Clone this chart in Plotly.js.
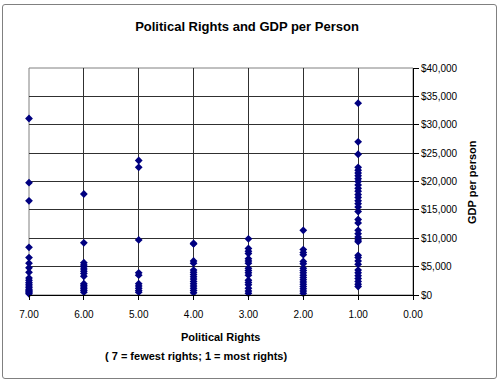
<!DOCTYPE html>
<html>
<head>
<meta charset="utf-8">
<script src="https://cdn.plot.ly/plotly-3.0.1.min.js"></script>
<style>
  html, body { margin: 0; padding: 0; background: #fff; }
  #wrap { position: relative; width: 500px; height: 382px; }
  #chart { width: 500px; height: 382px; }
  #frame { position: absolute; left: 2px; top: 4px; width: 493px; height: 373px;
           border: 1px solid #808080; border-radius: 3px; pointer-events: none; }
</style>
</head>
<body>
<div id="wrap"><div id="chart"></div><div id="frame"></div></div>
<script>
// Political rights score (x) and GDP per person values (y)
const rights = [7, 6, 5, 4, 3, 2, 1];
const gdp7 = [31100, 19800, 16600, 8400, 6600, 5600, 4800, 4000, 3000, 2600, 2200, 1900, 1600, 1300, 1000, 800, 600, 400, 200];
const gdp6 = [17800, 9200, 5700, 5300, 5000, 4600, 4200, 3800, 3300, 2000, 1700, 1400, 1100, 800, 500];
const gdp5 = [23700, 22500, 9700, 3900, 3500, 2000, 1600, 1200, 800, 500];
const gdp4 = [9100, 9000, 6000, 5600, 4400, 4000, 3600, 3200, 2800, 2400, 2000, 1600, 1200, 800, 400];
const gdp3 = [9900, 8200, 7700, 7300, 6400, 6000, 5600, 4700, 4300, 3900, 3500, 2600, 2200, 1800, 1200, 700, 300];
const gdp2 = [11400, 8000, 7500, 7100, 5900, 5500, 4700, 4300, 3900, 3500, 3100, 2700, 2300, 1900, 1500, 1100, 700, 300];
const gdp1 = [33800, 27000, 24800, 22500, 22000, 21500, 21000, 20500, 20000, 19400, 18800, 18300, 17700, 17200, 16600, 16100, 15500, 14700, 13300, 12700, 11400, 10800, 10200, 9700, 9400, 7000, 6600, 6000, 5400, 4400, 3900, 3400, 2900, 2400, 1900, 1500];
const xTickVals = [7, 6, 5, 4, 3, 2, 1, 0];
const xTickText = ['7.00', '6.00', '5.00', '4.00', '3.00', '2.00', '1.00', '0.00'];
const yTickVals = [0, 5000, 10000, 15000, 20000, 25000, 30000, 35000, 40000];
const yTickText = ['$0', '$5,000', '$10,000', '$15,000', '$20,000', '$25,000', '$30,000', '$35,000', '$40,000'];

const groups = [gdp7, gdp6, gdp5, gdp4, gdp3, gdp2, gdp1];
const xs = [], ys = [];
groups.forEach((g, i) => g.forEach(v => { xs.push(rights[i]); ys.push(v); }));

const F = 'Liberation Sans, Arial, sans-serif';

const trace = {
  type: 'scatter', mode: 'markers', x: xs, y: ys, cliponaxis: false,
  marker: { symbol: 'diamond', size: 6, color: '#000080', line: { width: 0 } },
  hoverinfo: 'x+y'
};

const layout = {
  width: 500, height: 382,
  margin: { l: 29, r: 87, t: 68, b: 87 },
  paper_bgcolor: '#ffffff', plot_bgcolor: '#ffffff',
  showlegend: false,
  font: { family: F, size: 10, color: '#000' },
  title: {
    text: '<b>Political Rights and GDP per Person</b>',
    font: { family: F, size: 13, color: '#000' },
    x: 0.494, xanchor: 'center', y: 1 - 26 / 382, yanchor: 'middle', yref: 'container'
  },
  xaxis: {
    range: [7, 0], tickmode: 'array', tickvals: xTickVals, ticktext: xTickText,
    showgrid: true, gridcolor: '#303030', gridwidth: 1,
    showline: true, linecolor: '#000', linewidth: 1,
    ticks: 'outside', ticklen: 4, tickcolor: '#000', ticklabelstandoff: 6,
    zeroline: false, tickfont: { family: F, size: 10, color: '#000' }
  },
  yaxis: {
    range: [0, 40000], tickmode: 'array', tickvals: yTickVals, ticktext: yTickText,
    side: 'right',
    showgrid: true, gridcolor: '#303030', gridwidth: 1,
    showline: true, linecolor: '#000', linewidth: 1,
    ticks: 'outside', ticklen: 5, tickcolor: '#000',
    zeroline: false, tickfont: { family: F, size: 10, color: '#000' }
  },
  shapes: [
    { type: 'rect', xref: 'paper', yref: 'paper', x0: 0, x1: 1, y0: 0, y1: 1,
      line: { color: '#808080', width: 1 }, layer: 'below' }
  ],
  annotations: [
    { text: '<b>Political Rights</b>', xref: 'paper', yref: 'paper',
      x: (220 - 29) / 384, y: (295 - 337) / 227, xanchor: 'center', yanchor: 'middle',
      showarrow: false, font: { family: F, size: 11, color: '#000' } },
    { text: '<b>( 7 = fewest rights; 1 = most rights)</b>', xref: 'paper', yref: 'paper',
      x: (196 - 29) / 384, y: (295 - 356) / 227, xanchor: 'center', yanchor: 'middle',
      showarrow: false, font: { family: F, size: 11, color: '#000' } },
    { text: '<b>GDP per person</b>', xref: 'paper', yref: 'paper', textangle: -90,
      x: (472 - 29) / 384, y: (295 - 182) / 227, xanchor: 'center', yanchor: 'middle',
      showarrow: false, font: { family: F, size: 11, color: '#000' } }
  ]
};

Plotly.newPlot('chart', [trace], layout, { displayModeBar: false, staticPlot: true });
</script>
</body>
</html>
